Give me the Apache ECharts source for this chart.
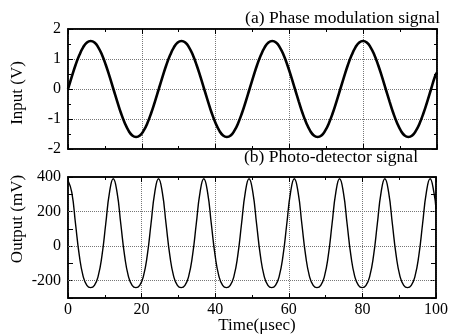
<!DOCTYPE html>
<html><head><meta charset="utf-8">
<script src="https://cdn.jsdelivr.net/npm/echarts@6/dist/echarts.min.js"></script>
<style>html,body{margin:0;padding:0;background:#fff}#c{width:451px;height:336px}</style>
</head><body><div id="c"></div>
<script>
// Time axis samples (µs)
const timeUs = [0,1.03,2.05,3.08,4.1,5.13,6.15,7.18,8.2,9.23,10.25,11.28,12.3,13.33,14.35,15.38,16.4,17.43,18.45,19.48,20.5,21.53,22.55,23.58,
24.6,25.63,26.65,27.68,28.7,29.73,30.75,31.78,32.8,33.83,34.85,35.88,36.9,37.93,38.95,39.98,41,42.03,43.05,44.08,45.1,46.13,47.15,48.18,
49.2,50.23,51.25,52.28,53.3,54.33,55.35,56.38,57.4,58.43,59.45,60.48,61.5,62.53,63.55,64.58,65.6,66.63,67.65,68.68,69.7,70.73,71.75,72.78,
73.8,74.83,75.85,76.88,77.9,78.93,79.95,80.98,82,83.03,84.05,85.08,86.1,87.13,88.15,89.18,90.2,91.23,92.25,93.28,94.3,95.33,96.35,97.38,
98.4,99.43,100];
// (a) Phase modulation signal, Input (V)
const inputV = [0,0.41,0.8,1.13,1.39,1.55,1.6,1.55,1.39,1.13,0.8,0.41,0,-0.41,-0.8,-1.13,-1.39,-1.55,-1.6,-1.55,-1.39,-1.13,-0.8,-0.41,
0,0.41,0.8,1.13,1.39,1.55,1.6,1.55,1.39,1.13,0.8,0.41,0,-0.41,-0.8,-1.13,-1.39,-1.55,-1.6,-1.55,-1.39,-1.13,-0.8,-0.41,
0,0.41,0.8,1.13,1.39,1.55,1.6,1.55,1.39,1.13,0.8,0.41,0,-0.41,-0.8,-1.13,-1.39,-1.55,-1.6,-1.55,-1.39,-1.13,-0.8,-0.41,
0,0.41,0.8,1.13,1.39,1.55,1.6,1.55,1.39,1.13,0.8,0.41,0,-0.41,-0.8,-1.13,-1.39,-1.55,-1.6,-1.55,-1.39,-1.13,-0.8,-0.41,
0,0.41,0.55];
// (b) Photo-detector signal, Output (mV)
const outputMv = [380,311,128,-55,-173,-227,-240,-227,-173,-55,128,311,390,311,128,-55,-173,-227,-240,-227,-173,-55,128,311,
390,311,128,-55,-173,-227,-240,-227,-173,-55,128,311,390,311,128,-55,-173,-227,-240,-227,-173,-55,128,311,
390,311,128,-55,-173,-227,-240,-227,-173,-55,128,311,390,311,128,-55,-173,-227,-240,-227,-173,-55,128,311,
390,311,128,-55,-173,-227,-240,-227,-173,-55,128,311,390,311,128,-55,-173,-227,-240,-227,-173,-55,128,311,
390,311,214];
const outputTickLabels = [-200,0,200,400];
const outputGridLines = [-200,0,200];

const FONT = '"Liberation Serif","Times New Roman",serif';
const chart = echarts.init(document.getElementById('c'), null, {renderer:'canvas'});
const gridLine = {show:true, lineStyle:{type:'dotted', color:'#777', width:1}};
const axLine = {show:true, onZero:false, lineStyle:{color:'#000', width:1.5}};
const tick = {show:true, inside:true, length:5, lineStyle:{color:'#000', width:1}};
const minor = {show:true, splitNumber:2, length:3, lineStyle:{color:'#000', width:1}};
const lbl = {color:'#000', fontFamily:FONT, fontSize:16};

function xAx(g, pos, showLabel, split) {
  return {type:'value', gridIndex:g, position:pos, min:0, max:100, interval:20,
    axisLine:axLine, axisTick:tick, minorTick:minor,
    axisLabel:Object.assign({show:showLabel, margin:4}, lbl),
    splitLine: split ? gridLine : {show:false}, minorSplitLine:{show:false}};
}
const option = {
  animation:false,
  backgroundColor:'#fff',
  grid:[
    {left:68, top:29, width:369, height:120, show:true, borderColor:'#000', borderWidth:1.5},
    {left:68, top:177, width:369, height:121, show:true, borderColor:'#000', borderWidth:1.5}
  ],
  xAxis:[ xAx(0,'bottom',false,true), xAx(1,'bottom',true,true), xAx(0,'top',false,false), xAx(1,'top',false,false) ],
  yAxis:[
    {type:'value', gridIndex:0, min:-2, max:2, interval:1, axisLine:axLine, axisTick:tick, minorTick:minor,
     axisLabel:Object.assign({margin:7}, lbl), splitLine:gridLine},
    {type:'value', gridIndex:1, min:-300, max:400, interval:100, axisLine:axLine, axisTick:tick,
     axisLabel:Object.assign({margin:7, formatter:v => outputTickLabels.includes(v) ? String(v) : ''}, lbl),
     splitLine:{show:false}},
    {type:'value', gridIndex:0, position:'right', min:-2, max:2, interval:1, axisLine:axLine, axisTick:tick, minorTick:minor,
     axisLabel:{show:false}, splitLine:{show:false}},
    {type:'value', gridIndex:1, position:'right', min:-300, max:400, interval:100, axisLine:axLine, axisTick:tick,
     axisLabel:{show:false}, splitLine:{show:false}}
  ],
  series:[
    {type:'line', xAxisIndex:0, yAxisIndex:0, data:timeUs.map((t,i)=>[t,inputV[i]]), smooth:true, symbol:'none',
     lineStyle:{color:'#000', width:2.6}, z:5},
    {type:'line', xAxisIndex:1, yAxisIndex:1, data:timeUs.map((t,i)=>[t,outputMv[i]]), smooth:true, symbol:'none',
     lineStyle:{color:'#000', width:1.4}, z:5,
     markLine:{silent:true, symbol:'none', label:{show:false}, animation:false,
       lineStyle:{type:'dotted', color:'#777', width:1}, data:outputGridLines.map(v=>({yAxis:v}))}}
  ],
  graphic:[
    {type:'text', x:440, y:18, style:{text:'(a) Phase modulation signal', fontSize:17.5, fontFamily:FONT, fill:'#000', align:'right', verticalAlign:'middle'}},
    {type:'text', x:418, y:157, style:{text:'(b) Photo-detector signal', fontSize:17.5, fontFamily:FONT, fill:'#000', align:'right', verticalAlign:'middle'}},
    {type:'text', x:18, y:93, rotation:Math.PI/2, style:{text:'Input (V)', fontSize:17, fontFamily:FONT, fill:'#000', align:'center', verticalAlign:'middle'}},
    {type:'text', x:18, y:219, rotation:Math.PI/2, style:{text:'Output (mV)', fontSize:17, fontFamily:FONT, fill:'#000', align:'center', verticalAlign:'middle'}},
    {type:'text', x:257, y:326, style:{text:'Time(μsec)', fontSize:17, fontFamily:FONT, fill:'#000', align:'center', verticalAlign:'middle'}}
  ]
};
chart.setOption(option);
</script></body></html>
